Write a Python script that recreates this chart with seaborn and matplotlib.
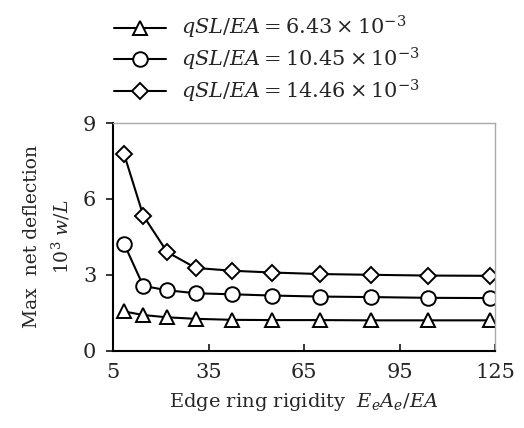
import matplotlib
matplotlib.use("Agg")
import matplotlib.pyplot as plt
import seaborn as sns

# valeurs
rigidity = [8.5, 14.5, 22, 31, 42.5, 55, 70, 86, 104, 123.5]
w_643 = [1.55, 1.41, 1.32, 1.26, 1.22, 1.21, 1.21, 1.20, 1.20, 1.20]
w_1045 = [4.22, 2.56, 2.39, 2.27, 2.23, 2.18, 2.14, 2.12, 2.09, 2.08]
w_1446 = [7.76, 5.34, 3.90, 3.27, 3.16, 3.09, 3.03, 3.00, 2.97, 2.96]
labels = [r"$qSL/EA = 6.43 \times 10^{-3}$",
          r"$qSL/EA = 10.45 \times 10^{-3}$",
          r"$qSL/EA = 14.46 \times 10^{-3}$"]
markers = ["^", "o", "D"]
sizes = [10, 10.5, 8]

sns.set_style("ticks")
plt.rcParams["font.family"] = ["DejaVu Serif"]
plt.rcParams["mathtext.fontset"] = "dejavuserif"

fig = plt.figure(figsize=(5.24, 4.28), dpi=100)
ax = fig.add_axes([0.2157, 0.1806, 0.7290, 0.532])

for y, lab, m, s in zip([w_643, w_1045, w_1446], labels, markers, sizes):
    sns.lineplot(x=rigidity, y=y, ax=ax, color="black", linewidth=1.5,
                 marker=m, markersize=s, markerfacecolor="white",
                 markeredgecolor="black", markeredgewidth=1.4, label=lab)

ax.set_xlim(5, 125)
ax.set_ylim(0, 9)
ax.set_xticks([5, 35, 65, 95, 125])
ax.set_yticks([0, 3, 6, 9])
ax.tick_params(axis="x", direction="in", length=5, width=1.3, labelsize=15, pad=9)
ax.tick_params(axis="y", direction="out", length=5, width=1.3, labelsize=15, pad=7)

for side in ["left", "bottom"]:
    ax.spines[side].set_color("black")
    ax.spines[side].set_linewidth(1.5)
for side in ["top", "right"]:
    ax.spines[side].set_color("#aaaaaa")
    ax.spines[side].set_linewidth(1.0)

ax.set_xlabel(r"Edge ring rigidity  $E_eA_e/EA$", fontsize=14, labelpad=6)
ax.set_ylabel("Max  net deflection\n" + r"$10^3\ w/L$", fontsize=13.5,
              linespacing=1.5, labelpad=8)

ax.legend(loc="lower left", bbox_to_anchor=(-0.035, 1.015), frameon=False,
          fontsize=15, handlelength=2.5, handletextpad=0.7, labelspacing=0.22,
          borderaxespad=0.3)

plt.savefig("out.png", dpi=100)
